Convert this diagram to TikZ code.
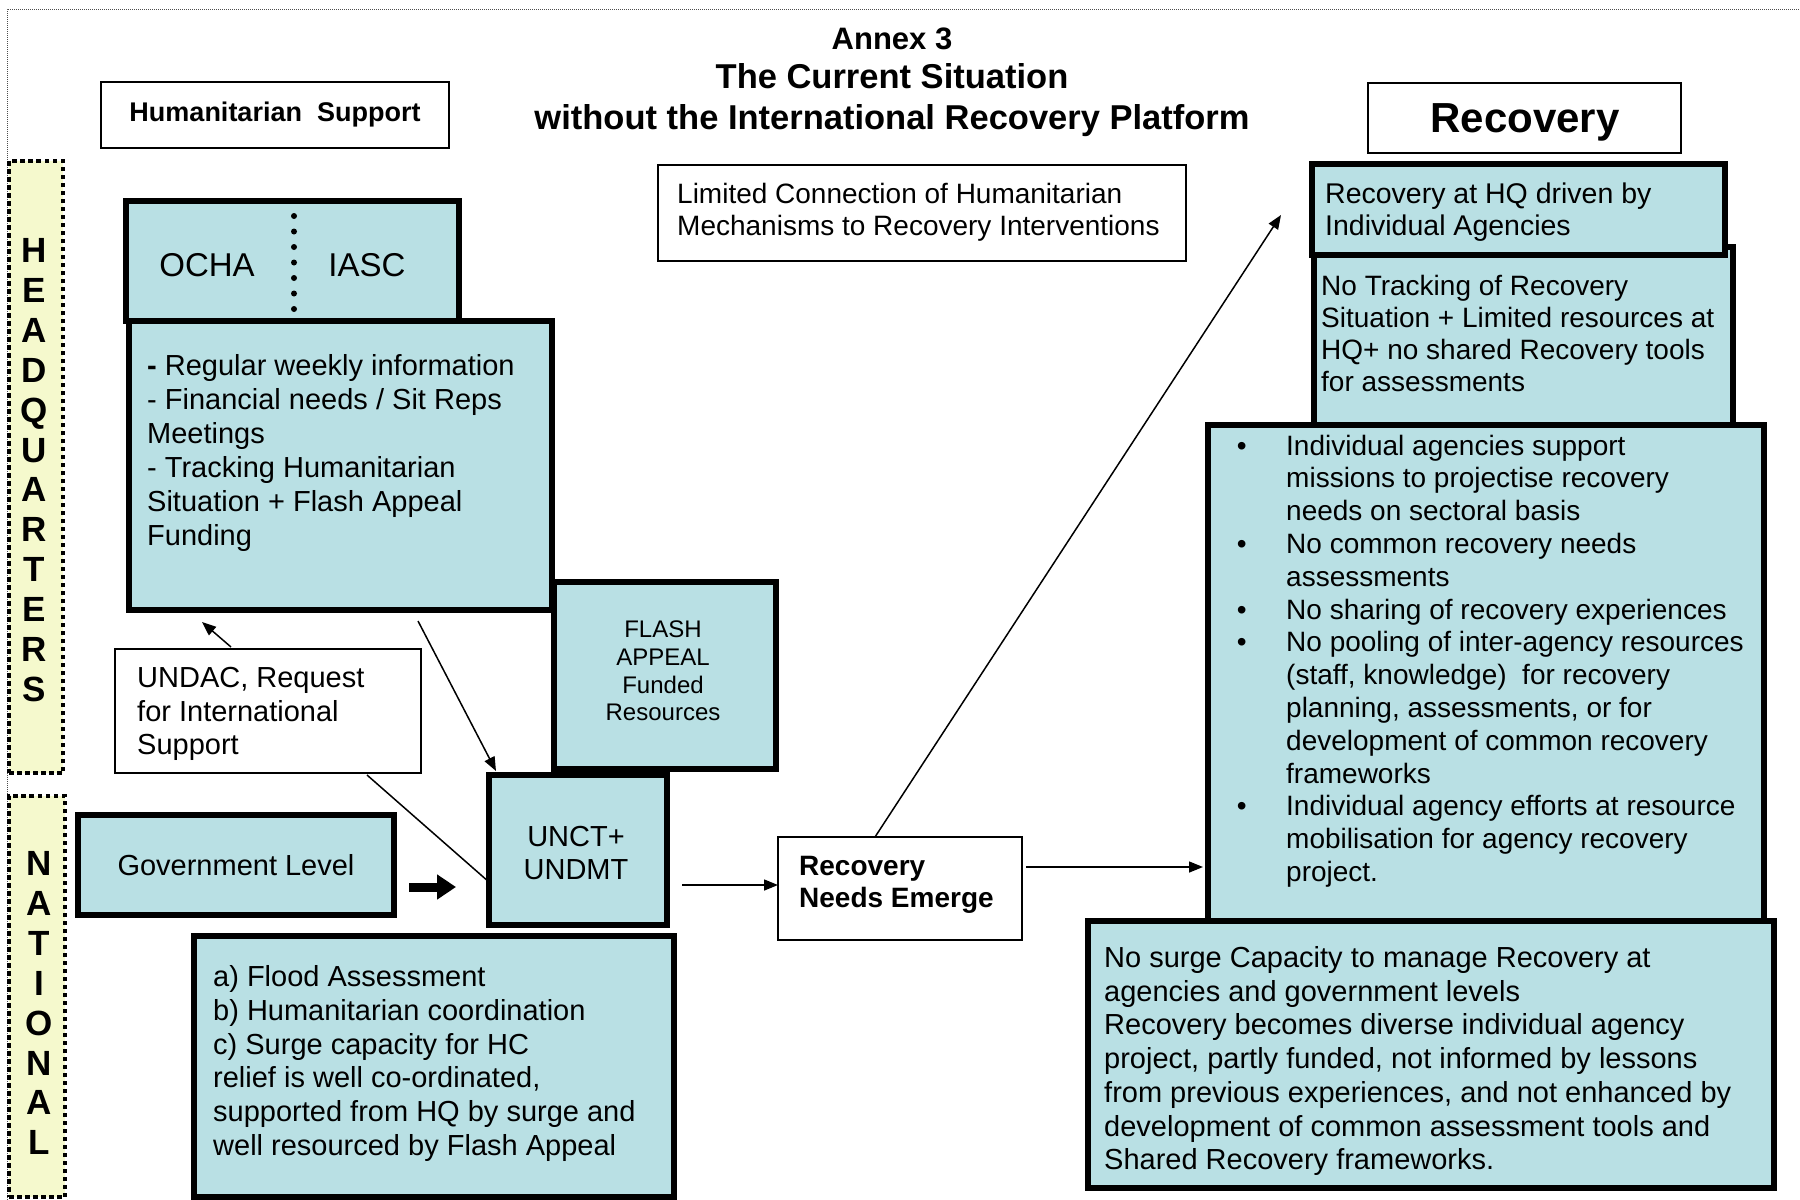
\documentclass[tikz,border=0pt]{standalone}
\usepackage{fontspec}
\setmainfont{Liberation Sans}
\usetikzlibrary{arrows.meta}
\definecolor{boxblue}{HTML}{B9E0E4}
\definecolor{sideyellow}{HTML}{F5F9CD}
\newcommand{\fs}[2]{\fontsize{#1}{#2}\selectfont}
\newcommand{\boxnode}[6]{\node[#1, anchor=north west, minimum width={#5-#3}, minimum height={#6-#4}, inner sep=0pt, outer sep=0pt] (#2) at (#3,#4) {};}
\tikzset{
  thinbox/.style={draw, line width=2pt, fill=white},
  bluebox/.style={draw, line width=6pt, fill=boxblue},
  sidebox/.style={draw, line width=4pt, fill=sideyellow, dash pattern=on 4.5pt off 3.5pt},
  txt/.style={inner sep=0pt, anchor=base west, align=left},
  ctxt/.style={inner sep=0pt, align=center},
  arr/.style={line width=1.5pt, -{Triangle[length=14pt,width=11pt]}},
  link/.style={line width=1.5pt}
}
\begin{document}
\begin{tikzpicture}[x=1pt,y=-1pt]
\useasboundingbox (0,0) rectangle (1800,1200);
% outer dotted frame
\draw[line width=1pt, dash pattern=on 1pt off 1pt, black!70] (7,1200) -- (7,9) -- (1800,9);

% title
\node[ctxt, anchor=base, font=\bfseries\fs{31}{36}] (t1) at (892,49) {Annex 3};
\node[ctxt, anchor=base, font=\bfseries\fs{34.5}{40}] (t2) at (892,88) {The Current Situation};
\node[ctxt, anchor=base, font=\bfseries\fs{34.5}{40}] (t3) at (892,129) {without the International Recovery Platform};

% side bands (base anchor = last line's baseline)
\boxnode{sidebox}{hq}{9}{161}{63}{773}
\node[ctxt, anchor=base, font=\bfseries\fs{35}{39.9}] (hqtxt) at (34,701.4) {H\\E\\A\\D\\Q\\U\\A\\R\\T\\E\\R\\S};
\boxnode{sidebox}{nat}{9}{796}{65}{1197}
\node[ctxt, anchor=base, font=\bfseries\fs{35}{39.9}] (nattxt) at (39,1154.8) {N\\A\\T\\I\\O\\N\\A\\L};

% humanitarian support
\boxnode{thinbox}{hs}{101}{82}{449}{148}
\node[ctxt, font=\bfseries\fs{27}{32}] (hstxt) at (hs.center) {Humanitarian\ \ Support};

% info box and OCHA
\boxnode{bluebox}{info}{129}{321}{552}{610}
\boxnode{bluebox}{ocha}{126}{201}{459}{321}
\draw[line width=6pt, line cap=round, dash pattern=on 0pt off 15.5pt] (294,216) -- (294,316);
\node[ctxt, font=\fs{33}{38}] (ochatxt) at (207,265) {OCHA};
\node[ctxt, font=\fs{33}{38}] (iasctxt) at (367,265) {IASC};
\node[txt, font=\fs{29}{34}] (infotxt) at (147,545.5) {\textbf{-} Regular weekly information\\- Financial needs / Sit Reps\\Meetings\\- Tracking Humanitarian\\Situation + Flash Appeal\\Funding};

% flash appeal
\boxnode{bluebox}{flash}{554}{582}{776}{769}
\node[ctxt, font=\fs{24}{27.6}] (flashtxt) at (663,671) {FLASH\\APPEAL\\Funded\\Resources};

% UNDAC
\boxnode{thinbox}{undac}{115}{649}{421}{773}
\node[txt, font=\fs{29}{33.5}] (undactxt) at (137,754.5) {UNDAC, Request\\for International\\Support};

% government level
\boxnode{bluebox}{gov}{78}{815}{394}{915}
\node[ctxt, font=\fs{29}{34}] (govtxt) at (gov.center) {Government Level};

% UNCT
\boxnode{bluebox}{unct}{489}{775}{667}{925}
\node[ctxt, font=\fs{29}{33}] (uncttxt) at (576,853) {UNCT+\\UNDMT};

% bottom-left
\boxnode{bluebox}{bl}{194}{936}{674}{1197}
\node[txt, font=\fs{29}{33.8}] (bltxt) at (213,1155.5) {a) Flood Assessment\\b) Humanitarian coordination\\c) Surge capacity for HC\\relief is well co-ordinated,\\supported from HQ by surge and\\well resourced by Flash Appeal};

% recovery needs emerge
\boxnode{thinbox}{rne}{778}{837}{1022}{940}
\node[txt, font=\bfseries\fs{28}{32}] (rnetxt) at (799,907) {Recovery\\Needs Emerge};

% limited connection
\boxnode{thinbox}{lc}{658}{165}{1186}{261}
\node[txt, font=\fs{28}{32}] (lctxt) at (677,235) {Limited Connection of Humanitarian\\Mechanisms to Recovery Interventions};

% right column
\boxnode{thinbox}{rec}{1368}{83}{1681}{153}
\node[ctxt, font=\bfseries\fs{42}{48}] (rectxt) at (1525,122) {Recovery};

\boxnode{bluebox}{nt}{1314}{247}{1733}{425}
\node[txt, font=\fs{28}{32}] (nttxt) at (1321,391) {No Tracking of Recovery\\Situation + Limited resources at\\HQ+ no shared Recovery tools\\for assessments};
\boxnode{bluebox}{rhq}{1312}{164}{1725}{255}
\node[txt, font=\fs{28.5}{32}] (rhqtxt) at (1325,235) {Recovery at HQ driven by\\Individual Agencies};

\boxnode{bluebox}{bul}{1208}{425}{1764}{921}
\node[txt, font=\fs{28}{32.8}] (bultxt) at (1232,881.4) {%
\makebox[54pt][l]{\,•}Individual agencies support\\
\hspace*{54pt}missions to projectise recovery\\
\hspace*{54pt}needs on sectoral basis\\
\makebox[54pt][l]{\,•}No common recovery needs\\
\hspace*{54pt}assessments\\
\makebox[54pt][l]{\,•}No sharing of recovery experiences\\
\makebox[54pt][l]{\,•}No pooling of inter-agency resources\\
\hspace*{54pt}(staff, knowledge)\ \ for recovery\\
\hspace*{54pt}planning, assessments, or for\\
\hspace*{54pt}development of common recovery\\
\hspace*{54pt}frameworks\\
\makebox[54pt][l]{\,•}Individual agency efforts at resource\\
\hspace*{54pt}mobilisation for agency recovery\\
\hspace*{54pt}project.};

\boxnode{bluebox}{br}{1088}{921}{1774}{1188}
\node[txt, font=\fs{29}{33.7}] (brtxt) at (1104,1169.7) {No surge Capacity to manage Recovery at\\agencies and government levels\\Recovery becomes diverse individual agency\\project, partly funded, not informed by lessons\\from previous experiences, and not enhanced by\\development of common assessment tools and\\Shared Recovery frameworks.};

% connectors
\coordinate (c1a) at (418,621);
\coordinate (c1b) at (496,771);
\draw[arr] (c1a) -- (c1b);
\coordinate (c2a) at (231,647);
\coordinate (c2b) at (202,622);
\draw[arr] (c2a) -- (c2b);
\coordinate (c3a) at (367,775);
\coordinate (c3b) at (489,882);
\draw[link] (c3a) -- (c3b);
\coordinate (c4a) at (682,885);
\draw[arr] (c4a) -- (rne.west |- c4a);
\coordinate (c5a) at (1026,867);
\coordinate (c5b) at (1203,867);
\draw[arr] (c5a) -- (c5b);
\coordinate (c6a) at (875,837);
\coordinate (c6b) at (1281,215);
\draw[arr] (c6a) -- (c6b);
% block arrow government -> UNCT
\coordinate (g1) at (409,887);
\coordinate (g2) at (456,887);
\draw[line width=9pt, -{Triangle[length=19pt,width=24pt]}] (g1) -- (g2);
\end{tikzpicture}
\end{document}
